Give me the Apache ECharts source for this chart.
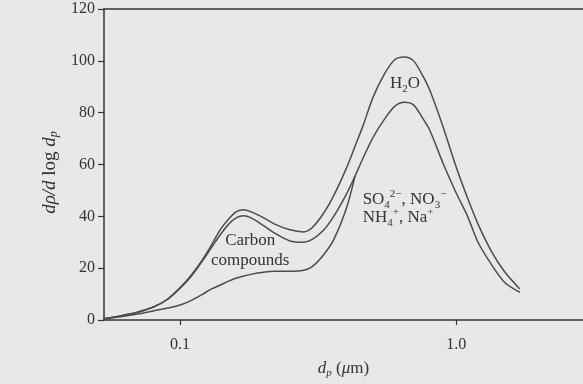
<!DOCTYPE html>
<html><head><meta charset="utf-8">
<script src="https://cdn.jsdelivr.net/npm/echarts@6/dist/echarts.min.js"></script>
<style>html,body{margin:0;padding:0;background:#e8e8e6}#c{width:583px;height:384px}</style>
</head><body><div id="c"></div>
<script>
// particle diameter, µm
const diameters = [0.053, 0.06, 0.07, 0.08, 0.09, 0.1, 0.11, 0.12, 0.13, 0.14, 0.15, 0.16, 0.17, 0.18, 0.2, 0.22, 0.25, 0.28, 0.3, 0.33, 0.36, 0.4, 0.43, 0.46, 0.5, 0.55, 0.6, 0.65, 0.7, 0.75, 0.8, 0.9, 1.0, 1.1, 1.2, 1.35, 1.5, 1.7];
// cumulative curves
const carbon = [0.5, 1.2, 2.3, 3.5, 4.6, 5.8, 7.6, 9.8, 12, 13.5, 15, 16.2, 17, 17.6, 18.4, 18.8, 18.8, 19.2, 20.5, 25, 31, 43, 55.5, null, null, null, null, null, null, null, null, null, null, null, null, null, null, null];
const ions = [0.5, 1.5, 3, 5, 8, 12.3, 17, 22.5, 28, 33, 37, 39.5, 40.2, 39.5, 36.5, 33.5, 30.5, 30, 31, 34.5, 40, 48.5, 55.5, 62.5, 70.5, 77.5, 82.5, 84, 83, 78.5, 73.5, 60, 49, 40, 30, 21, 14.5, 10.7];
const water = [0.5, 1.5, 3, 5, 8, 12.5, 17.5, 23, 29, 35, 39, 41.8, 42.5, 41.8, 39.5, 37, 34.8, 34, 35.5, 41, 48, 58.5, 67, 75, 86, 95, 100.5, 101.5, 100, 95, 89, 74, 59, 47, 37, 26, 18.5, 12];
const xTickValues = [0.1, 1];
const xTickLabels = ['0.1', '1.0'];
const yMin = 0, yMax = 120, yStep = 20;
const xMin = 0.053, xMax = 2.88;
// annotation anchors [diameter, value]
const carbonLabelAt = [0.1795, 26.7];
const waterLabelAt = [0.653, 91.3];
const ionsLine1At = [0.4564, 46.6];
const ionsLine2At = [0.4564, 39.7];

const FONT = 'Liberation Serif';
const INK = '#333333';
const LINE = '#4c4c4c';
const pairs = arr => diameters.map((d, i) => [d, arr[i]]).filter(p => p[1] !== null);

const chem = {
  b: {fontFamily: FONT, fontSize: 17, color: INK, lineHeight: 22, verticalAlign: 'middle'},
  sub: {fontFamily: FONT, fontSize: 11, color: INK, lineHeight: 11, verticalAlign: 'bottom'},
  sup: {fontFamily: FONT, fontSize: 11, color: INK, lineHeight: 11, verticalAlign: 'top'}
};

function mp(coord, text, pos) {
  return {
    coord: coord, symbol: 'circle', symbolSize: 1,
    itemStyle: {color: 'rgba(0,0,0,0)'},
    label: {show: true, position: pos, distance: 0, formatter: text,
      fontFamily: FONT, fontSize: 17, color: INK, lineHeight: 20, align: pos === 'right' ? 'left' : 'center',
      rich: chem}
  };
}

const chart = echarts.init(document.getElementById('c'), null, {renderer: 'canvas'});
chart.setOption({
  animation: false,
  backgroundColor: '#e8e8e6',
  grid: {left: 104, right: 0, top: 9, bottom: 61, containLabel: false},
  xAxis: [{
    type: 'log', logBase: 10, min: xMin, max: xMax,
    axisLine: {show: true, lineStyle: {color: INK, width: 1.5}},
    axisTick: {show: true, inside: false, length: 5, customValues: xTickValues, lineStyle: {color: INK, width: 1.2}},
    axisLabel: {show: true, customValues: xTickValues, margin: 17,
      fontFamily: FONT, fontSize: 16, color: INK,
      formatter: v => { const i = xTickValues.findIndex(t => Math.abs(t - v) < 1e-9); return i >= 0 ? xTickLabels[i] : ''; }},
    splitLine: {show: false}, minorTick: {show: false},
    name: '{i|d}{s|p} ({i|μ}m)', nameLocation: 'middle', nameGap: 39,
    nameTextStyle: {fontFamily: FONT, fontSize: 17, color: INK,
      rich: {n: {fontFamily: FONT, fontSize: 17, color: INK, lineHeight: 20, verticalAlign: 'middle'},
             i: {fontFamily: FONT, fontStyle: 'italic', fontSize: 17, color: INK, lineHeight: 20, verticalAlign: 'middle'},
             s: {fontFamily: FONT, fontStyle: 'italic', fontSize: 11, color: INK, lineHeight: 11, verticalAlign: 'bottom'}}}
  }, {
    type: 'log', logBase: 10, min: xMin, max: xMax, position: 'top',
    axisLine: {show: true, lineStyle: {color: INK, width: 1.5}},
    axisTick: {show: false}, axisLabel: {show: false}, splitLine: {show: false}
  }],
  yAxis: {
    type: 'value', min: yMin, max: yMax, interval: yStep,
    axisLine: {show: true, lineStyle: {color: INK, width: 1.5}},
    axisTick: {show: true, inside: false, length: 6, lineStyle: {color: INK, width: 1.2}},
    axisLabel: {margin: 9, fontFamily: FONT, fontSize: 16, color: INK},
    splitLine: {show: false},
    name: '{i|dρ/d} log {i|d}{s|p}', nameLocation: 'middle', nameGap: 35, nameRotate: 90,
    nameTextStyle: {fontFamily: FONT, fontSize: 19, color: INK, padding: [0, 16, 0, 0],
      rich: {i: {fontFamily: FONT, fontStyle: 'italic', fontSize: 19, color: INK, lineHeight: 21, verticalAlign: 'middle'},
             s: {fontFamily: FONT, fontStyle: 'italic', fontSize: 12, color: INK, lineHeight: 12, verticalAlign: 'bottom'}}}
  },
  series: [
    {name: 'Carbon', type: 'line', data: pairs(carbon), smooth: 0.3, showSymbol: false,
     lineStyle: {color: LINE, width: 1.5}},
    {name: 'Ions', type: 'line', data: pairs(ions), smooth: 0.3, showSymbol: false,
     lineStyle: {color: LINE, width: 1.5},
     markPoint: {silent: true, data: [
       mp(carbonLabelAt, 'Carbon\ncompounds', 'inside'),
       mp(waterLabelAt, '{b|H}{sub|2}{b|O}', 'inside'),
       mp(ionsLine1At, '{b|SO}{sub|4}{sup|2−}{b|, NO}{sub|3}{sup|−}', 'right'),
       mp(ionsLine2At, '{b|NH}{sub|4}{sup|+}{b|, Na}{sup|+}', 'right')
     ]}},
    {name: 'Water', type: 'line', data: pairs(water), smooth: 0.3, showSymbol: false,
     lineStyle: {color: LINE, width: 1.5}}
  ]
});
</script>
</body></html>
